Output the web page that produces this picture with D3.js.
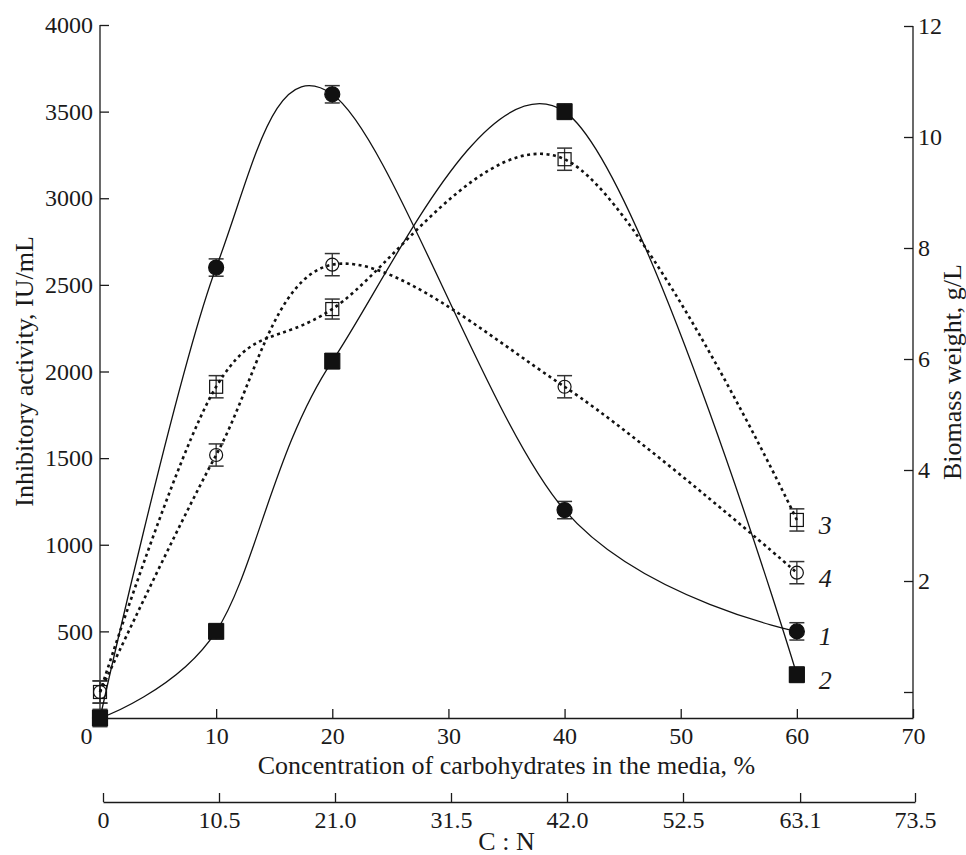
<!DOCTYPE html>
<html lang="en">
<head>
<meta charset="utf-8">
<title>Inhibitory activity and biomass vs carbohydrate concentration</title>
<script src="https://d3js.org/d3.v7.min.js"></script>
<style>
  body { margin: 0; background: #fff; }
  svg text { font-family: "Liberation Serif", "Times New Roman", serif; fill: #1a1a1a; }
</style>
</head>
<body>
<script>
// data
var pct = [0, 10, 20, 40, 60];
var inhib1 = [0, 2600, 3600, 1200, 500];      // curve 1, filled circles (left axis)
var inhib1Err = [45, 50, 50, 50, 50];
var inhib2 = [0, 500, 2060, 3500, 250];       // curve 2, filled squares (left axis)
var inhib2Err = [50, 45, 45, 45, 45];
var biomass3 = [0, 5.5, 6.9, 9.6, 3.1];       // curve 3, open squares (right axis)
var biomass3Err = [0.2, 0.2, 0.18, 0.2, 0.2];
var biomass4 = [0, 4.27, 7.7, 5.5, 2.15];     // curve 4, open circles (right axis)
var biomass4Err = [0.2, 0.2, 0.2, 0.2, 0.2];

var xTicks = [0, 10, 20, 30, 40, 50, 60, 70];
var leftTicks = [500, 1000, 1500, 2000, 2500, 3000, 3500, 4000];
var rightTicks = [0, 2, 4, 6, 8, 10, 12];
var cnTicks = [0, 10.5, 21.0, 31.5, 42.0, 52.5, 63.1, 73.5];

var w = 966, h = 855;
var svg = d3.select("body").append("svg").attr("width", w).attr("height", h);

var x = d3.scaleLinear().domain([0, 70]).range([100, 913]);
var yL = d3.scaleLinear().domain([0, 4000]).range([718, 25]);
var yR = d3.scaleLinear().domain([0, 12]).range([692, 26]);
var xCN = d3.scaleLinear().domain([0, 73.5]).range([103, 915]);

var fs = 24;    // tick labels
var fsT = 26;   // axis titles

// bottom axis
var gx = svg.append("g").attr("transform", "translate(0," + yL(0) + ")")
  .call(d3.axisBottom(x).tickValues(xTicks).tickSizeInner(-9).tickSizeOuter(0));
gx.selectAll("text").attr("y", 9).attr("dy", "0.71em").style("font-size", fs + "px")
  .attr("dx", function(d) { return d === 0 ? -14 : 0; });
gx.select(".tick").select("line").remove();

// left axis
var gl = svg.append("g").attr("transform", "translate(" + x(0) + ",0)")
  .call(d3.axisLeft(yL).tickValues(leftTicks).tickSizeInner(-9).tickSizeOuter(0).tickFormat(d3.format("d")));
gl.select(".domain").remove();
gl.selectAll("text").attr("x", -7).style("font-size", fs + "px");
svg.append("line").attr("x1", x(0)).attr("x2", x(0)).attr("y1", yL(4000)).attr("y2", yL(0))
  .attr("stroke", "#1a1a1a").attr("stroke-width", 1.3);

// right axis
var gr = svg.append("g").attr("transform", "translate(" + x(70) + ",0)")
  .call(d3.axisRight(yR).tickValues(rightTicks).tickSizeInner(-9).tickSizeOuter(0)
    .tickFormat(function(d) { return d === 0 ? "" : d; }));
gr.select(".domain").remove();
gr.selectAll("text").attr("x", 5).style("font-size", fs + "px");
svg.append("line").attr("x1", x(70)).attr("x2", x(70)).attr("y1", yR(12)).attr("y2", yL(0))
  .attr("stroke", "#1a1a1a").attr("stroke-width", 1.3);

// C:N axis
var gc = svg.append("g").attr("transform", "translate(0,802)")
  .call(d3.axisBottom(xCN).tickValues(cnTicks).tickSizeInner(-9).tickSizeOuter(0)
    .tickFormat(function(d) { return d === 0 ? "0" : d3.format(".1f")(d); }));
gc.selectAll("text").attr("y", 9).attr("dy", "0.71em").style("font-size", fs + "px");

svg.selectAll(".domain, .tick line").attr("stroke", "#1a1a1a").attr("stroke-width", 1.3);

// axis titles
svg.append("text").attr("x", (x(0) + x(70)) / 2).attr("y", 774).attr("text-anchor", "middle")
  .style("font-size", fsT + "px").text("Concentration of carbohydrates in the media, %");
svg.append("text").attr("x", (x(0) + x(70)) / 2).attr("y", 850).attr("text-anchor", "middle")
  .style("font-size", fsT + "px").text("C : N");
svg.append("text").attr("transform", "translate(33," + (yL(0) + yL(4000)) / 2 + ") rotate(-90)")
  .attr("text-anchor", "middle").style("font-size", fsT + "px").text("Inhibitory activity, IU/mL");
svg.append("text").attr("transform", "translate(961," + (yL(0) + yR(12)) / 2 + ") rotate(-90)")
  .attr("text-anchor", "middle").style("font-size", fsT + "px").text("Biomass weight, g/L");

// series
var series = [
  { vals: inhib1, err: inhib1Err, y: yL, shape: "circle", open: false, label: "1" },
  { vals: inhib2, err: inhib2Err, y: yL, shape: "square", open: false, label: "2" },
  { vals: biomass3, err: biomass3Err, y: yR, shape: "square", open: true, label: "3" },
  { vals: biomass4, err: biomass4Err, y: yR, shape: "circle", open: true, label: "4" }
];

var line = d3.line().curve(d3.curveCatmullRom.alpha(0));

// error bars first, then lines, then markers
series.forEach(function(s) {
  var g = svg.append("g");
  pct.forEach(function(p, i) {
    var cx = x(p), top = s.y(s.vals[i] + s.err[i]), bot = s.y(s.vals[i] - s.err[i]);
    g.append("line").attr("x1", cx).attr("x2", cx).attr("y1", top).attr("y2", bot)
      .attr("stroke", "#333").attr("stroke-width", 1.3);
    [top, bot].forEach(function(yy) {
      g.append("line").attr("x1", cx - 7.5).attr("x2", cx + 7.5).attr("y1", yy).attr("y2", yy)
        .attr("stroke", "#333").attr("stroke-width", 1.5);
    });
  });
});

series.forEach(function(s) {
  var pts = pct.map(function(p, i) { return [x(p), s.y(s.vals[i])]; });
  svg.append("path").attr("d", line(pts)).attr("fill", "none")
    .attr("stroke", "#111")
    .attr("stroke-width", s.open ? 2.6 : 1.3)
    .attr("stroke-dasharray", s.open ? "3,3.5" : null);
});

series.forEach(function(s) {
  var g = svg.append("g");
  pct.forEach(function(p, i) {
    var cx = x(p), cy = s.y(s.vals[i]);
    var half = s.open ? 6.5 : 7.5;
    if (s.shape === "circle") {
      g.append("circle").attr("cx", cx).attr("cy", cy).attr("r", half)
        .attr("fill", s.open ? "none" : "#111").attr("stroke", "#111").attr("stroke-width", 1.2);
    } else {
      g.append("rect").attr("x", cx - half).attr("y", cy - half).attr("width", 2 * half).attr("height", 2 * half)
        .attr("fill", s.open ? "none" : "#111").attr("stroke", "#111").attr("stroke-width", 1.2);
    }
  });
  var last = pct.length - 1;
  svg.append("text").attr("x", x(pct[last]) + 22).attr("y", s.y(s.vals[last]) + 5)
    .attr("dy", "0.35em").style("font-size", "26px").style("font-style", "italic").text(s.label);
});
</script>
</body>
</html>
